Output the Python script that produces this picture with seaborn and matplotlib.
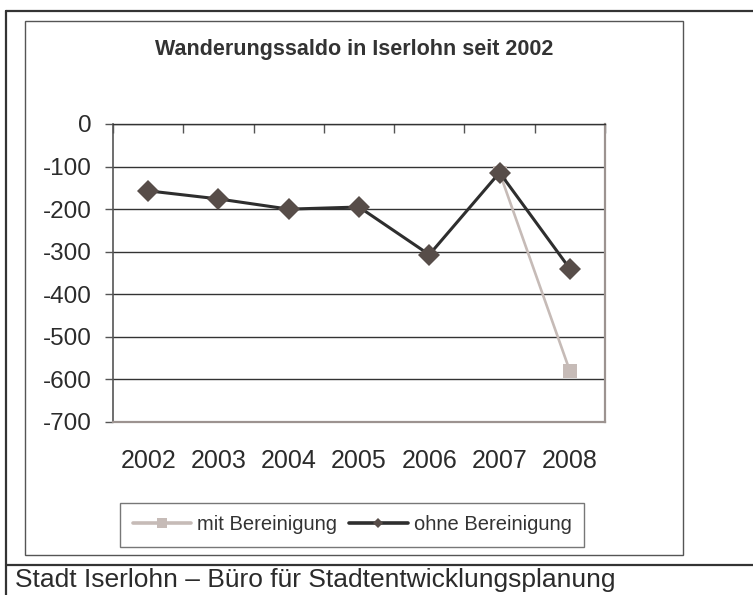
import numpy as np
import pandas as pd
import seaborn as sns
import matplotlib.pyplot as plt
from matplotlib.lines import Line2D
from matplotlib.patches import Rectangle

jahre = [2002, 2003, 2004, 2005, 2006, 2007, 2008]
ohne_bereinigung = [-157, -176, -200, -195, -307, -114, -340]
mit_bereinigung = [np.nan, np.nan, np.nan, np.nan, np.nan, -114, -580]
y_ticks = [0, -100, -200, -300, -400, -500, -600, -700]

titel = "Wanderungssaldo in Iserlohn seit 2002"
quelle = "Stadt Iserlohn – Büro für Stadtentwicklungsplanung"

sns.set_style("white")
plt.rcParams["font.family"] = ["Liberation Sans", "DejaVu Sans"]
plt.rcParams["axes.unicode_minus"] = False

W, H = 753, 595
fig = plt.figure(figsize=(W / 100, H / 100), dpi=100)
ax = fig.add_axes([113 / W, 1 - 422 / H, (605 - 113) / W, (422 - 124) / H])

df = pd.DataFrame({"jahr": jahre, "mit": mit_bereinigung, "ohne": ohne_bereinigung})

# hellere Linie zuerst, damit die Rauten darueber liegen
sns.lineplot(data=df.dropna(), x="jahr", y="mit", ax=ax, color="#c6bbb7", linewidth=1.9,
             marker="s", markersize=10, markeredgewidth=0, legend=False)
sns.lineplot(data=df, x="jahr", y="ohne", ax=ax, color="#2e2e2e", linewidth=2.2,
             marker="D", markersize=11, markerfacecolor="#574d49", markeredgewidth=0,
             legend=False)

ax.set_xlim(jahre[0] - 0.5, jahre[-1] + 0.5)
ax.set_ylim(-700, 0)
ax.set_xlabel("")
ax.set_ylabel("")
ax.set_xticks(jahre)
ax.set_xticklabels([str(j) for j in jahre])
ax.set_xticks([j - 0.5 for j in jahre] + [jahre[-1] + 0.5], minor=True)
ax.set_yticks(y_ticks)
ax.set_yticklabels([str(v) for v in y_ticks])

ax.tick_params(axis="x", which="major", length=0, pad=19.5, labelsize=18, labelcolor="#2b2b2b")
ax.tick_params(axis="x", which="minor", top=True, bottom=False, direction="in",
               length=6.5, width=1, color="#555555")
ax.tick_params(axis="y", which="major", left=True, length=5.5, width=1, color="#555555",
               pad=10, labelsize=17.5, labelcolor="#2b2b2b")

ax.set_axisbelow(True)
ax.yaxis.grid(True, color="#333333", linewidth=1)
ax.xaxis.grid(False)
ax.spines["top"].set_color("#333333")
ax.spines["top"].set_linewidth(1)
ax.spines["left"].set_color("#555555")
ax.spines["left"].set_linewidth(1.2)
for s in ["bottom", "right"]:
    ax.spines[s].set_color("#9c9390")
    ax.spines[s].set_linewidth(1.6)

# Rahmen
fig.add_artist(Rectangle((25 / W, 1 - 555 / H), (683 - 25) / W, (555 - 21) / H,
                         transform=fig.transFigure, fill=False, edgecolor="#555555", linewidth=1))
for x0, x1, y0, y1 in [(6, W, 11, 11), (6, W, 565, 565), (6, 6, 11, H)]:
    fig.add_artist(Line2D([x0 / W, x1 / W], [1 - y0 / H, 1 - y1 / H], transform=fig.transFigure,
                          color="#333333", linewidth=1.6))

fig.text(354 / W, 1 - 50 / H, titel, ha="center", va="center", fontsize=15.5,
         fontweight="bold", color="#333333")

handles = [
    Line2D([], [], color="#c6bbb7", linewidth=2.6, marker="s", markersize=7, markeredgewidth=0),
    Line2D([], [], color="#2e2e2e", linewidth=2.6, marker="D", markersize=5,
           markerfacecolor="#574d49", markeredgewidth=0),
]
leg = fig.legend(handles, ["mit Bereinigung", "ohne Bereinigung"], loc="center",
                 bbox_to_anchor=(352 / W, 1 - 525 / H), ncol=2, fontsize=14.5,
                 frameon=True, fancybox=False, shadow=False, handlelength=2.9,
                 handletextpad=0.3, columnspacing=0.6, borderpad=0.6, labelcolor="#333333")
leg.get_frame().set_edgecolor("#555555")
leg.get_frame().set_linewidth(1)

fig.text(15 / W, 1 - 587 / H, quelle, ha="left", va="baseline", fontsize=19, color="#2b2b2b")

fig.savefig("out.png", dpi=100)
